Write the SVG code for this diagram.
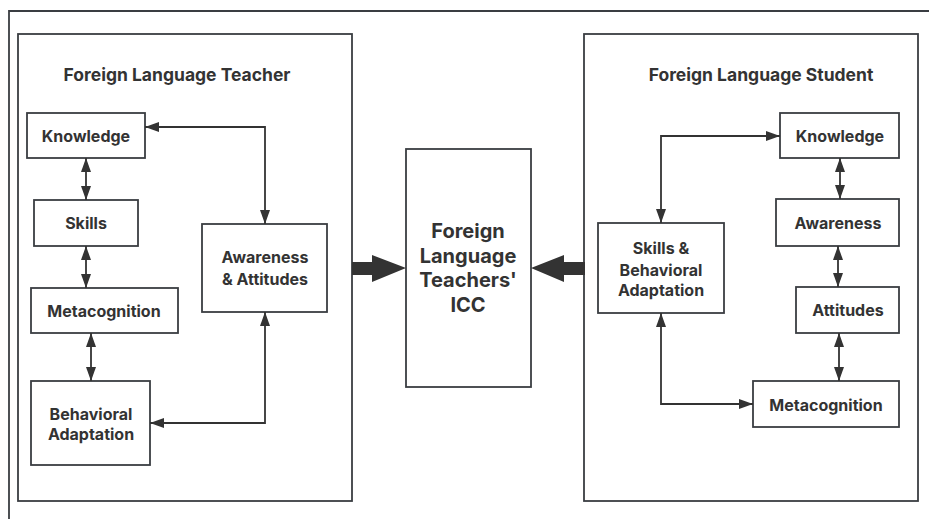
<svg xmlns="http://www.w3.org/2000/svg" width="929" height="519" viewBox="0 0 929 519">
  <style>
    .box { fill: #ffffff; stroke: #3a3d42; stroke-width: 1.8; }
    .frame { fill: none; stroke: #3a3d42; stroke-width: 1.8; }
    .lbl { font-family: Inter, "Open Sans", "DejaVu Sans", sans-serif; font-weight: bold; font-size: 16px; fill: #333333; text-anchor: middle; }
    .title { font-size: 17.5px; }
    .big { font-size: 20px; }
    .link { fill: none; stroke: #333333; stroke-width: 1.8; }
    .thick { fill: #333333; stroke: none; }
  </style>
  <defs>
    <marker id="ah" viewBox="0 0 14 10" refX="14" refY="5" markerWidth="14" markerHeight="10" markerUnits="userSpaceOnUse" orient="auto-start-reverse">
      <path d="M0,0 L14,5 L0,10 Z" fill="#333333"/>
    </marker>
  </defs>
  <rect width="929" height="519" fill="#ffffff"/>

  <!-- open outer frame: top and left edges only -->
  <path class="frame" d="M9,519 V11 H929"/>

  <!-- containers -->
  <g id="teacher">
    <rect class="box" x="18" y="34" width="334" height="467"/>
    <text class="lbl title" x="177" y="81">Foreign Language Teacher</text>
  </g>
  <g id="student">
    <rect class="box" x="584" y="34" width="334" height="467"/>
    <text class="lbl title" x="761" y="81">Foreign Language Student</text>
  </g>

  <!-- teacher components -->
  <g id="t-knowledge">
    <rect class="box" x="27" y="113" width="118" height="45"/>
    <text class="lbl" x="86" y="142">Knowledge</text>
  </g>
  <g id="t-skills">
    <rect class="box" x="34" y="200" width="104" height="46"/>
    <text class="lbl" x="86" y="229">Skills</text>
  </g>
  <g id="t-metacognition">
    <rect class="box" x="31" y="288" width="147" height="45"/>
    <text class="lbl" x="104" y="317">Metacognition</text>
  </g>
  <g id="t-behavioral">
    <rect class="box" x="31" y="381" width="119" height="84"/>
    <text class="lbl" x="91" y="420">Behavioral</text>
    <text class="lbl" x="91" y="440">Adaptation</text>
  </g>
  <g id="t-awareness">
    <rect class="box" x="202" y="224" width="125" height="88"/>
    <text class="lbl" x="265" y="263">Awareness</text>
    <text class="lbl" x="265" y="285">&amp; Attitudes</text>
  </g>

  <!-- central node -->
  <g id="icc">
    <rect class="box" x="406" y="149" width="125" height="238"/>
    <text class="lbl big" x="468" y="238">Foreign</text>
    <text class="lbl big" x="468" y="263">Language</text>
    <text class="lbl big" x="468" y="287">Teachers'</text>
    <text class="lbl big" x="468" y="312">ICC</text>
  </g>

  <!-- student components -->
  <g id="s-knowledge">
    <rect class="box" x="780" y="113" width="119" height="45"/>
    <text class="lbl" x="840" y="142">Knowledge</text>
  </g>
  <g id="s-awareness">
    <rect class="box" x="776" y="199" width="123" height="47"/>
    <text class="lbl" x="838" y="229">Awareness</text>
  </g>
  <g id="s-attitudes">
    <rect class="box" x="796" y="287" width="103" height="46"/>
    <text class="lbl" x="848" y="316">Attitudes</text>
  </g>
  <g id="s-metacognition">
    <rect class="box" x="753" y="381" width="146" height="46"/>
    <text class="lbl" x="826" y="411">Metacognition</text>
  </g>
  <g id="s-skills">
    <rect class="box" x="598" y="223" width="126" height="90"/>
    <text class="lbl" x="661" y="254">Skills &amp;</text>
    <text class="lbl" x="661" y="276">Behavioral</text>
    <text class="lbl" x="661" y="296">Adaptation</text>
  </g>

  <!-- connectors -->
  <g id="connectors">
    <path class="link" d="M86,158 V200" marker-start="url(#ah)" marker-end="url(#ah)"/>
    <path class="link" d="M86,246 V288" marker-start="url(#ah)" marker-end="url(#ah)"/>
    <path class="link" d="M91,333 V381" marker-start="url(#ah)" marker-end="url(#ah)"/>
    <path class="link" d="M145,127 H265 V224" marker-start="url(#ah)" marker-end="url(#ah)"/>
    <path class="link" d="M265,312 V423 H150" marker-start="url(#ah)" marker-end="url(#ah)"/>

    <path class="link" d="M840,158 V199" marker-start="url(#ah)" marker-end="url(#ah)"/>
    <path class="link" d="M838,246 V287" marker-start="url(#ah)" marker-end="url(#ah)"/>
    <path class="link" d="M839,333 V381" marker-start="url(#ah)" marker-end="url(#ah)"/>
    <path class="link" d="M780,136 H661 V223" marker-start="url(#ah)" marker-end="url(#ah)"/>
    <path class="link" d="M661,313 V404 H753" marker-start="url(#ah)" marker-end="url(#ah)"/>

    <!-- thick arrows into the central node -->
    <path class="thick" d="M352,262 H372 V255 L406,268 L372,282 V275 H352 Z"/>
    <path class="thick" d="M585,262 H564 V255 L531,268 L564,282 V275 H585 Z"/>
  </g>
</svg>
